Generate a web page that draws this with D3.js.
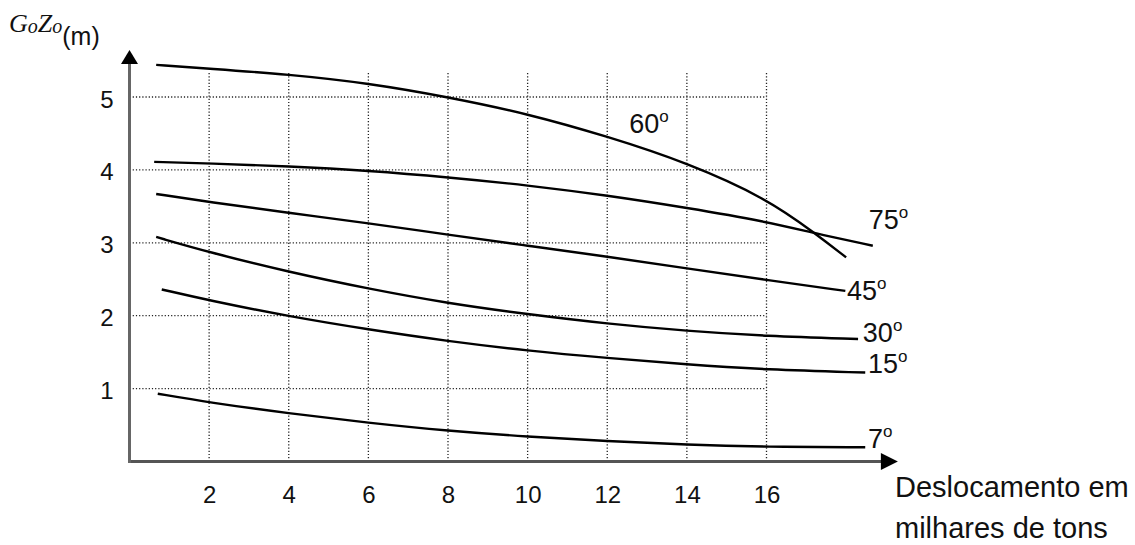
<!DOCTYPE html>
<html>
<head>
<meta charset="utf-8">
<script src="https://cdn.jsdelivr.net/npm/d3@7"></script>
<style>
  html, body { margin: 0; padding: 0; background: #fff; }
  svg { display: block; }
</style>
</head>
<body>
<svg id="chart" width="1135" height="545"></svg>
<script>
// ---- data ----
const xTicks = [2, 4, 6, 8, 10, 12, 14, 16];
const yTicks = [1, 2, 3, 4, 5];
const seriesNames = ["60", "75", "45", "30", "15", "7"];

const s60 = [[0.67,5.44],[2,5.39],[4,5.31],[6,5.19],[8,5.00],[10,4.77],[12,4.46],[14,4.10],[16,3.61],[17.22,3.13],[18.0,2.80]];
const s75 = [[0.62,4.11],[2,4.09],[4,4.05],[6,3.99],[8,3.90],[10,3.79],[12,3.65],[14,3.48],[16,3.29],[17.22,3.13],[18.67,2.96]];
const s45 = [[0.67,3.67],[2,3.56],[4,3.41],[6,3.27],[8,3.11],[10,2.96],[12,2.81],[14,2.65],[16,2.49],[17.98,2.34]];
const s30 = [[0.67,3.08],[2,2.87],[4,2.60],[6,2.37],[8,2.17],[10,2.02],[12,1.89],[14,1.79],[16,1.72],[18.3,1.68]];
const s15 = [[0.81,2.36],[2,2.21],[4,1.99],[6,1.81],[8,1.65],[10,1.52],[12,1.42],[14,1.33],[16,1.26],[18.48,1.22]];
const s7  = [[0.71,0.93],[2,0.81],[4,0.66],[6,0.53],[8,0.42],[10,0.34],[12,0.28],[14,0.23],[16,0.20],[18.48,0.195]];
const seriesData = [s60, s75, s45, s30, s15, s7];

// ---- layout ----
const svg = d3.select("#chart");
const x = d3.scaleLinear().domain([0, 16]).range([129.5, 766.5]);
const y = d3.scaleLinear().domain([0, 5]).range([461.5, 97]);
const textColor = "#111";
const sans = "'Liberation Sans', Arial, sans-serif";
const serif = "'Liberation Serif', 'Times New Roman', serif";

// grid
const grid = svg.append("g").attr("stroke", "#222").attr("stroke-width", 1.3)
  .attr("stroke-dasharray", "1.2,2");
grid.selectAll("line.v").data(xTicks).join("line").attr("class", "v")
  .attr("x1", d => x(d)).attr("x2", d => x(d))
  .attr("y1", y(0)).attr("y2", y(5.34));
grid.selectAll("line.h").data(yTicks).join("line").attr("class", "h")
  .attr("x1", x(0)).attr("x2", x(16))
  .attr("y1", d => y(d)).attr("y2", d => y(d));

// axes with tick labels
const xAxis = svg.append("g").attr("transform", `translate(0,${y(0)})`)
  .call(d3.axisBottom(x).tickValues(xTicks).tickFormat(d3.format("d")).tickSize(0).tickPadding(24));
xAxis.select(".domain").remove();
xAxis.selectAll("text").attr("font-family", sans).attr("font-size", 24).attr("fill", textColor);

const yAxis = svg.append("g").attr("transform", `translate(${x(0)},0)`)
  .call(d3.axisLeft(y).tickValues(yTicks).tickFormat(d3.format("d")).tickSize(0).tickPadding(16));
yAxis.select(".domain").remove();
yAxis.selectAll("text").attr("font-family", sans).attr("font-size", 24).attr("fill", textColor)
  .attr("dy", "0.42em");

// axis lines + arrows
const xEnd = 19.3, yEnd = 5.645;
svg.append("line").attr("x1", x(0)).attr("x2", x(xEnd) - 14).attr("y1", y(0)).attr("y2", y(0))
  .attr("stroke", "#555").attr("stroke-width", 3);
svg.append("line").attr("x1", x(0)).attr("x2", x(0)).attr("y1", y(0) + 1.5).attr("y2", y(yEnd) + 12)
  .attr("stroke", "#666").attr("stroke-width", 3);
svg.append("path")
  .attr("d", `M${x(xEnd)},${y(0)} L${x(xEnd) - 17},${y(0) - 8.5} L${x(xEnd) - 17},${y(0) + 8.5} Z`)
  .attr("fill", "#000");
svg.append("path")
  .attr("d", `M${x(0)},${y(yEnd)} L${x(0) - 8.5},${y(yEnd) + 14} L${x(0) + 8.5},${y(yEnd) + 14} Z`)
  .attr("fill", "#000");

// curves
const line = d3.line().x(d => x(d[0])).y(d => y(d[1])).curve(d3.curveBasis);
svg.append("g").selectAll("path").data(seriesData).join("path")
  .attr("d", line).attr("fill", "none").attr("stroke", "#000").attr("stroke-width", 2.4);

// curve labels (anchor in data units)
const labelAt = { "60": [12.55, 4.51], "75": [18.57, 3.19], "45": [18.02, 2.215],
                  "30": [18.42, 1.64], "15": [18.55, 1.21], "7": [18.55, 0.185] };
const lab = svg.append("g").attr("font-family", sans).attr("fill", textColor);
seriesNames.forEach(n => {
  const t = lab.append("text").attr("x", x(labelAt[n][0])).attr("y", y(labelAt[n][1]))
    .attr("font-size", 27);
  t.append("tspan").text(n);
  t.append("tspan").text("o").attr("font-size", 17).attr("dy", -11);
});

// y title
const yt = svg.append("text").attr("x", 9).attr("y", 32).attr("fill", textColor);
yt.append("tspan").text("G").attr("font-family", serif).attr("font-style", "italic").attr("font-size", 26);
yt.append("tspan").text("o").attr("font-family", serif).attr("font-style", "italic").attr("font-size", 20).attr("dy", 1);
yt.append("tspan").text("Z").attr("font-family", serif).attr("font-style", "italic").attr("font-size", 26).attr("dy", -1);
yt.append("tspan").text("o").attr("font-family", serif).attr("font-style", "italic").attr("font-size", 20).attr("dy", 1);
yt.append("tspan").text("(m)").attr("font-family", sans).attr("font-size", 25).attr("dy", 12);

// x title
const xt = svg.append("g").attr("font-family", sans).attr("font-size", 29).attr("fill", textColor);
xt.append("text").attr("x", 895).attr("y", 497).text("Deslocamento em");
xt.append("text").attr("x", 895).attr("y", 538).text("milhares de tons");
</script>
</body>
</html>
